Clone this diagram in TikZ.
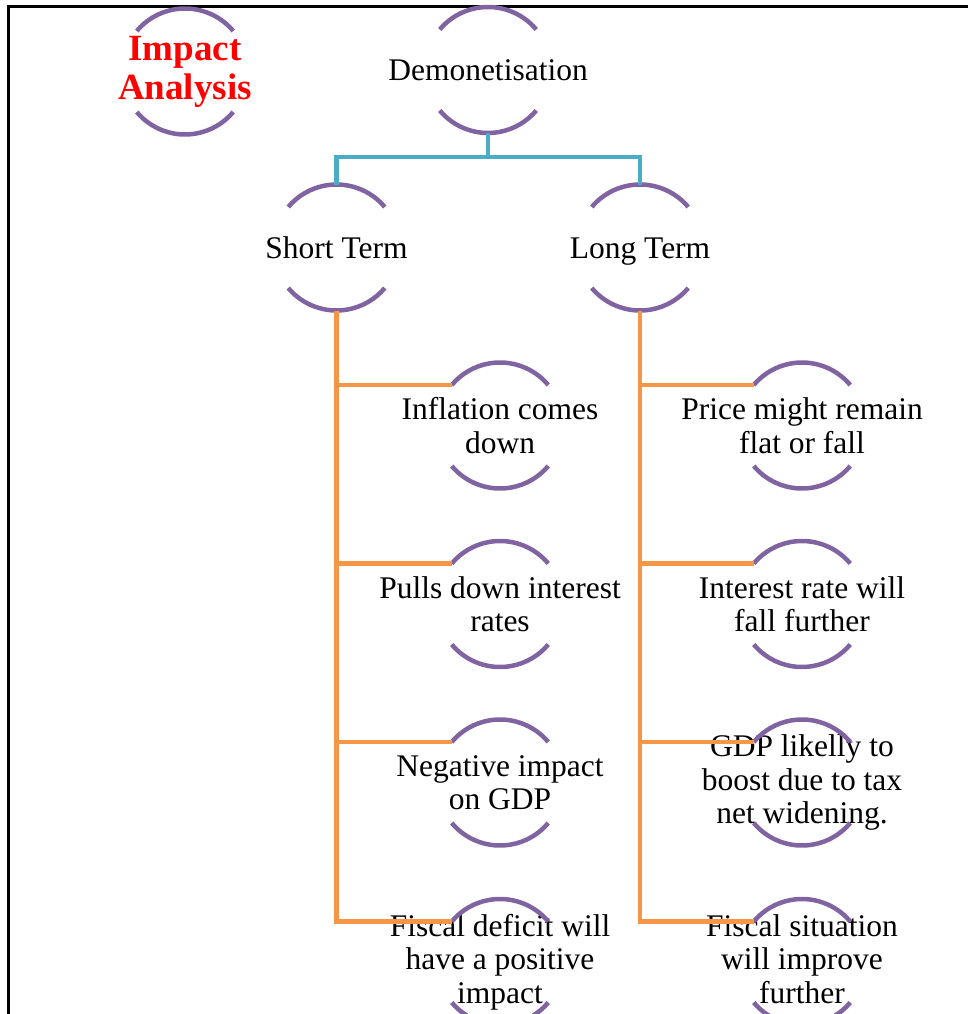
\documentclass[tikz,border=0pt]{standalone}
\usepackage{fontspec}
\setmainfont{Liberation Serif}
\definecolor{arcpurple}{HTML}{8064A2}
\definecolor{linkteal}{HTML}{4BACC6}
\definecolor{linkorange}{HTML}{F79646}
\newcommand\splitcirc[1]{%
  \draw[arcline] (#1.center) ++(40:63pt) arc[start angle=40,end angle=140,radius=63pt];
  \draw[arcline] (#1.center) ++(220:63pt) arc[start angle=220,end angle=320,radius=63pt];}
\begin{document}
\begin{tikzpicture}[x=1pt,y=-1pt,
  lbl/.style={align=center,inner sep=0pt,font=\fontsize{31.5}{33.5}\selectfont},
  oneline/.style={text height=22pt,text depth=1pt},
  titlelbl/.style={align=center,inner sep=0pt,text=red,font=\fontsize{37}{39}\selectfont\bfseries},
  arcline/.style={draw=arcpurple,line width=4.5pt},
  tealline/.style={draw=linkteal,line width=4.5pt},
  orangeline/.style={draw=linkorange,line width=4.5pt},
  frameline/.style={draw=black,line width=3pt}]
\useasboundingbox (0,0) rectangle (968,1014);
\draw[frameline] (968,7) -- (8,7) -- (8,1014);

\node[titlelbl] (impact) at (185,71.5) {Impact\\Analysis};
\node[lbl,oneline] (demo) at (488,70) {Demonetisation};
\node[lbl,oneline] (short) at (336.5,247.5) {Short Term};
\node[lbl,oneline] (long) at (640,247.5) {Long Term};

\node[lbl] (s1) at (500,425.5) {Inflation comes\\down};
\node[lbl] (s2) at (500,604) {Pulls down interest\\rates};
\node[lbl] (s3) at (500,782.5) {Negative impact\\on GDP};
\node[lbl] (s4) at (500,962) {Fiscal deficit will\\have a positive\\impact};

\node[lbl] (l1) at (802,425.5) {Price might remain\\flat or fall};
\node[lbl] (l2) at (802,604) {Interest rate will\\fall further};
\node[lbl] (l3) at (802,782.5) {GDP likelly to\\boost due to tax\\net widening.};
\node[lbl] (l4) at (802,962) {Fiscal situation\\will improve\\further\vphantom{p}};

\foreach \n in {impact,demo,short,long,s1,s2,s3,s4,l1,l2,l3,l4}{\splitcirc{\n}}

\coordinate (tj) at ([yshift=-87pt]demo.center);
\draw[tealline] ([yshift=-63pt]demo.center) -- (tj);
\draw[tealline] (tj) -| ([yshift=63pt]short.center);
\draw[tealline] (tj) -| ([yshift=63pt]long.center);

\foreach \c in {s1,s2,s3,s4}{
  \draw[orangeline] ([yshift=-63pt]short.center) |- ([shift={(140:63pt)}]\c.center);}
\foreach \c in {l1,l2,l3,l4}{
  \draw[orangeline] ([yshift=-63pt]long.center) |- ([shift={(140:63pt)}]\c.center);}
\end{tikzpicture}
\end{document}
